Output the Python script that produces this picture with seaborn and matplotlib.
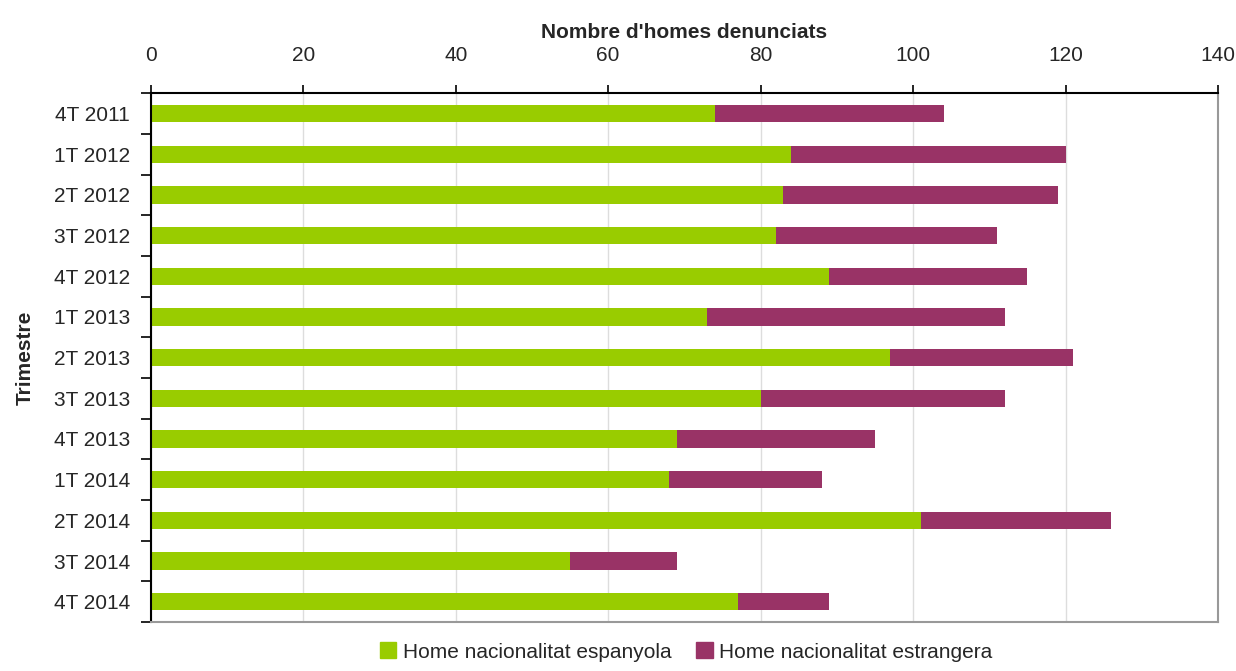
import numpy as np
import pandas as pd
import seaborn as sns
import matplotlib.pyplot as plt
from matplotlib.patches import Patch

# values
trimestres = ['4T 2011', '1T 2012', '2T 2012', '3T 2012', '4T 2012', '1T 2013', '2T 2013',
              '3T 2013', '4T 2013', '1T 2014', '2T 2014', '3T 2014', '4T 2014']
espanyola = [74, 84, 83, 82, 89, 73, 97, 80, 69, 68, 101, 55, 77]
estrangera = [30, 36, 36, 29, 26, 39, 24, 32, 26, 20, 25, 14, 12]
xticks = [0, 20, 40, 60, 80, 100, 120, 140]

verd = '#99CC00'
granat = '#993366'

df = pd.DataFrame({'Trimestre': trimestres, 'esp': espanyola, 'est': estrangera})
df['total'] = df['esp'] + df['est']

sns.set_style('white')
plt.rcParams['font.family'] = ['Liberation Sans', 'DejaVu Sans']

fig = plt.figure(figsize=(12.36, 6.71), dpi=100)
ax = fig.add_axes([0.122, 0.073, 0.8634, 0.788])

# stacked: draw total first, then spanish part on top
sns.barplot(data=df, x='total', y='Trimestre', color=granat, width=0.43, ax=ax,
            saturation=1, orient='h', linewidth=0)
sns.barplot(data=df, x='esp', y='Trimestre', color=verd, width=0.43, ax=ax,
            saturation=1, orient='h', linewidth=0)

ax.set_xlim(0, 140)
ax.set_ylim(12.5, -0.5)
ax.set_xticks(xticks)
ax.xaxis.tick_top()
ax.xaxis.set_label_position('top')
ax.set_xlabel("Nombre d'homes denunciats", fontsize=15, fontweight='bold', labelpad=6)
ax.set_ylabel('Trimestre', fontsize=15, fontweight='bold', labelpad=14)
ax.tick_params(axis='x', which='major', direction='out', length=6, width=1.2,
               labelsize=15, pad=14, color='black')
ax.grid(axis='x', color='#dddddd', linewidth=1)
ax.set_axisbelow(True)

# category labels centred, tick marks on the boundaries
ax.set_yticks(range(len(trimestres)))
ax.set_yticklabels(trimestres)
ax.set_yticks(np.arange(-0.5, len(trimestres), 1), minor=True)
ax.tick_params(axis='y', which='major', length=0, labelsize=15, pad=15)
ax.tick_params(axis='y', which='minor', direction='out', length=7, width=1.2, color='black', left=True)

for side in ['left', 'top']:
    ax.spines[side].set_color('black')
    ax.spines[side].set_linewidth(1.5)
for side in ['right', 'bottom']:
    ax.spines[side].set_color('#999999')
    ax.spines[side].set_linewidth(1.5)

handles = [Patch(color=verd, label='Home nacionalitat espanyola'),
           Patch(color=granat, label='Home nacionalitat estrangera')]
fig.legend(handles=handles, loc='lower center', bbox_to_anchor=(0.555, -0.014), ncol=2,
           frameon=False, fontsize=15, handlelength=0.8, handleheight=0.8,
           handletextpad=0.3, columnspacing=1.2)

fig.savefig('out.png', dpi=100)
